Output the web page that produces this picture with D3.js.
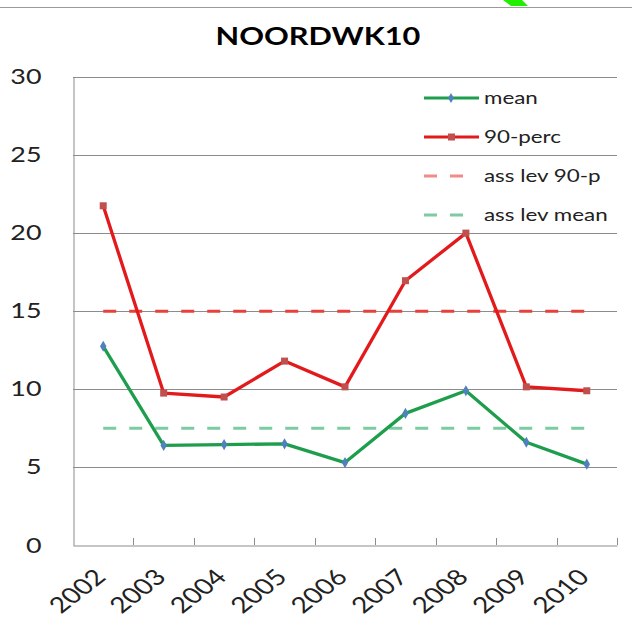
<!DOCTYPE html>
<html><head><meta charset="utf-8">
<script src="https://cdn.jsdelivr.net/npm/d3@7"></script>
<style>html,body{margin:0;padding:0;background:#fff;}svg{display:block;}</style>
</head><body>
<script>
const years = ["2002","2003","2004","2005","2006","2007","2008","2009","2010"];
const meanValues = [12.75, 6.4, 6.45, 6.5, 5.3, 8.45, 9.9, 6.6, 5.2];
const perc90Values = [21.75, 9.75, 9.5, 11.8, 10.15, 16.95, 20.0, 10.15, 9.9];
const assLev90 = 15;
const assLevMean = 7.5;
const yTicks = [0, 5, 10, 15, 20, 25, 30];
const legendLabels = ["mean", "90-perc", "ass lev 90-p", "ass lev mean"];
const titleText = "NOORDWK10";

const W = 632, H = 625;
const SX = 1.28; // horizontal stretch of the text in the picture
const svg = d3.select("body").append("svg").attr("width", W).attr("height", H);
const font = "Lato, 'Open Sans', sans-serif";

// frame artifacts
svg.append("line").attr("x1",0).attr("x2",W).attr("y1",7.5).attr("y2",7.5).attr("stroke","#9a9a9a").attr("stroke-width",1);
svg.append("path").attr("d","M503,0 L522,0 L528,6 L511,6 Z").attr("fill","#22ee00");

const x = d3.scaleBand().domain(years).range([73, 617]);
const y = d3.scaleLinear().domain([0, 30]).range([545.3, 77]);
const cx = d => x(d) + x.bandwidth()/2;

// title
svg.append("text").attr("transform", `translate(318,45) scale(${SX},1)`).attr("text-anchor","middle")
  .attr("font-family", font).attr("font-weight","bold").attr("font-size", 24).attr("fill","#000").text(titleText);

// gridlines
svg.append("g").selectAll("line").data(yTicks.filter(t => t > 0)).join("line")
  .attr("x1", 73).attr("x2", 617).attr("y1", d => Math.round(y(d))+0.5).attr("y2", d => Math.round(y(d))+0.5)
  .attr("stroke","#8c8c8c").attr("stroke-width",1);

// y axis
const yAxis = d3.axisLeft(y).tickValues(yTicks).tickSize(0);
const ya = svg.append("g").attr("transform","translate(73.5,0)").call(yAxis);
ya.select(".domain").attr("stroke","#8c8c8c");
ya.selectAll("text").attr("x", 0).attr("transform", `translate(-32,0) scale(${SX},1)`)
  .attr("font-family", font).attr("font-size", 21).attr("fill","#222");

// x axis
const xAxis = d3.axisBottom(x).tickSize(0).tickFormat(d => d);
const xa = svg.append("g").attr("transform","translate(0,545.5)").call(xAxis);
xa.select(".domain").attr("stroke","#8c8c8c");
xa.selectAll("text")
  .attr("font-family", font).attr("font-size", 22).attr("fill","#222")
  .attr("text-anchor","end").attr("dy", null).attr("y", 0)
  .attr("transform",`translate(4,33) scale(${SX},1) rotate(-45)`);
// inside tick marks at category boundaries
const bounds = years.map(d => x(d)).concat([617]);
svg.append("g").selectAll("line").data(bounds.slice(1)).join("line")
  .attr("x1", d => Math.round(d)+0.5).attr("x2", d => Math.round(d)+0.5)
  .attr("y1", 545).attr("y2", 538).attr("stroke","#8c8c8c");

// dashed assessment lines
svg.append("line").attr("x1", cx(years[0])).attr("x2", cx(years[years.length-1]))
  .attr("y1", y(assLev90)).attr("y2", y(assLev90))
  .attr("stroke","#e8403c").attr("stroke-width",3).attr("stroke-dasharray","13,13");
svg.append("line").attr("x1", cx(years[0])).attr("x2", cx(years[years.length-1]))
  .attr("y1", y(assLevMean)).attr("y2", y(assLevMean))
  .attr("stroke","#7dcaa3").attr("stroke-width",3).attr("stroke-dasharray","13,13");

// lines
const line = d3.line().x((d,i) => cx(years[i])).y(d => y(d));
svg.append("path").datum(perc90Values).attr("d", line).attr("fill","none")
  .attr("stroke","#e31a1c").attr("stroke-width",3.3).attr("stroke-linejoin","round");
svg.append("path").datum(meanValues).attr("d", line).attr("fill","none")
  .attr("stroke","#1e9e4d").attr("stroke-width",3.3).attr("stroke-linejoin","round");

// markers
svg.append("g").selectAll("rect").data(perc90Values).join("rect")
  .attr("x",(d,i)=>cx(years[i])-3.5).attr("y",d=>y(d)-3.5).attr("width",7).attr("height",7)
  .attr("fill","#c0504d");
svg.append("g").selectAll("path").data(meanValues).join("path")
  .attr("d", d3.symbol().type(d3.symbolDiamond).size(36))
  .attr("transform",(d,i)=>`translate(${cx(years[i])},${y(d)})`)
  .attr("fill","#4f81bd");

// legend
const leg = svg.append("g");
const ly = [98, 137, 176, 215];
leg.append("line").attr("x1",424).attr("x2",479).attr("y1",ly[0]).attr("y2",ly[0]).attr("stroke","#1e9e4d").attr("stroke-width",3);
leg.append("path").attr("d", d3.symbol().type(d3.symbolDiamond).size(30)).attr("transform",`translate(451,${ly[0]})`).attr("fill","#4f81bd");
leg.append("line").attr("x1",424).attr("x2",479).attr("y1",ly[1]).attr("y2",ly[1]).attr("stroke","#e31a1c").attr("stroke-width",3);
leg.append("rect").attr("x",448).attr("y",ly[1]-3.5).attr("width",7).attr("height",7).attr("fill","#c0504d");
leg.append("line").attr("x1",424).attr("x2",466).attr("y1",ly[2]).attr("y2",ly[2]).attr("stroke","#f08b86").attr("stroke-width",3).attr("stroke-dasharray","13,13");
leg.append("line").attr("x1",424).attr("x2",466).attr("y1",ly[3]).attr("y2",ly[3]).attr("stroke","#7dcaa3").attr("stroke-width",3).attr("stroke-dasharray","13,13");
leg.selectAll("text").data(legendLabels).join("text")
  .attr("transform",(d,i)=>`translate(484,${ly[i]+6}) scale(${SX},1)`)
  .attr("font-family", font).attr("font-size",17.5).attr("fill","#222").text(d=>d);
</script>
</body></html>
